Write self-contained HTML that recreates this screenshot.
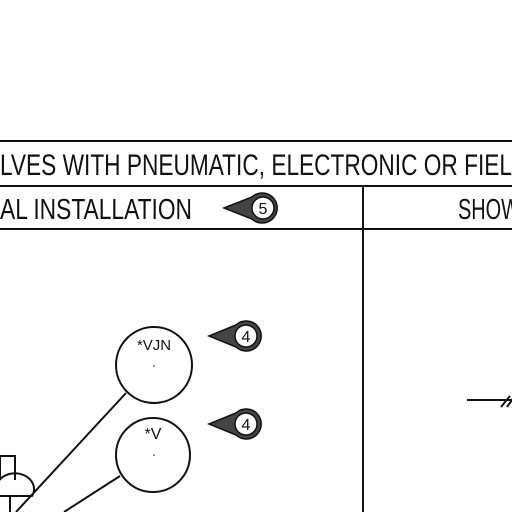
<!DOCTYPE html>
<html><head><meta charset="utf-8"><style>
html,body{margin:0;padding:0;background:#fff;}
svg{display:block;}
text{font-family:"Liberation Sans",sans-serif;fill:#111;}
</style></head><body>
<svg width="512" height="512" viewBox="0 0 512 512">
<g stroke="#111" fill="none" stroke-width="2">
<line x1="0" y1="141" x2="512" y2="141"/>
<line x1="0" y1="186" x2="512" y2="186"/>
<line x1="0" y1="229" x2="512" y2="229"/>
<line x1="363" y1="186" x2="363" y2="512"/>
</g>
<text x="0" y="175" font-size="30" textLength="512" lengthAdjust="spacingAndGlyphs">LVES WITH PNEUMATIC, ELECTRONIC OR FIEL</text>
<text x="0" y="219" font-size="29" textLength="192" lengthAdjust="spacingAndGlyphs">AL INSTALLATION</text>
<text x="458" y="219" font-size="29" textLength="62" lengthAdjust="spacingAndGlyphs">SHOW</text>
<g>
<path d="M224,208 L252,197 A15,15 0 1 1 252,219 Z" fill="#444" stroke="#111" stroke-width="1.5"/>
<circle cx="263" cy="208" r="11" fill="#fff" stroke="#111" stroke-width="1.5"/>
<text x="263" y="214" font-size="16" text-anchor="middle">5</text>
</g>
<g>
<path d="M209,336 L236,325 A15,15 0 1 1 236,347 Z" fill="#444" stroke="#111" stroke-width="1.5"/>
<circle cx="246" cy="336" r="11" fill="#fff" stroke="#111" stroke-width="1.5"/>
<text x="246" y="342" font-size="16" text-anchor="middle">4</text>
</g>
<g>
<path d="M209,424 L236,413 A15,15 0 1 1 236,435 Z" fill="#444" stroke="#111" stroke-width="1.5"/>
<circle cx="246" cy="424" r="11" fill="#fff" stroke="#111" stroke-width="1.5"/>
<text x="246" y="430" font-size="16" text-anchor="middle">4</text>
</g>
<g stroke="#111" fill="none" stroke-width="2">
<circle cx="154" cy="365" r="38"/>
<circle cx="153" cy="455" r="37"/>
<line x1="126" y1="393" x2="16" y2="512"/>
<line x1="120" y1="476" x2="64" y2="512"/>
<path d="M0,480 L0,456 L15,456 L15,480"/>
<path d="M-2,496 L32,496 A17,14 0 0 0 -2,482"/>
<line x1="10" y1="496" x2="10" y2="512"/>
<line x1="467" y1="400" x2="512" y2="400" stroke-width="2"/>
<line x1="501" y1="407" x2="510" y2="396"/>
<line x1="507" y1="407" x2="514" y2="397"/>
</g>
<text x="154" y="350" font-size="15" text-anchor="middle" textLength="34" lengthAdjust="spacingAndGlyphs">*VJN</text>
<text x="153" y="439" font-size="16" text-anchor="middle">*V</text>
<circle cx="154" cy="366" r="0.8" fill="#111"/>
<circle cx="154" cy="455" r="0.8" fill="#111"/>
</svg>
</body></html>
